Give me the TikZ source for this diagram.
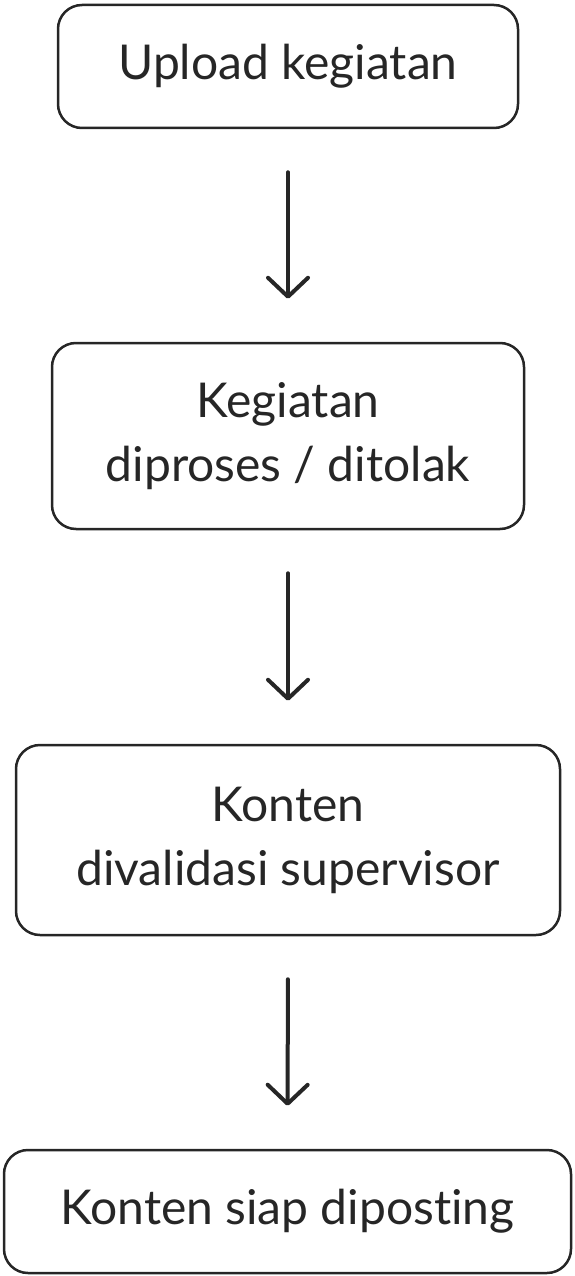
\documentclass[tikz,border=0pt]{standalone}
\usepackage{fontspec}
\setmainfont{Lato}[Ligatures={NoCommon}]
\usetikzlibrary{arrows.meta}
\definecolor{ink}{HTML}{262626}
\begin{document}
\begin{tikzpicture}[x=1pt,y=1pt,
  stepbox/.style={draw=ink, line width=2.5pt, rounded corners=24pt, align=center,
    text=ink, inner sep=0pt, font=\fontsize{48}{64}\selectfont},
  flow/.style={draw=ink, line width=4pt, line cap=round,
    -{Straight Barb[length=19pt, width=40pt, line width=4pt, round]},
    shorten <=43pt, shorten >=43pt}]
\useasboundingbox (0,0) rectangle (574,-1276);
\node[stepbox, minimum width=460pt, minimum height=123pt] (b1) at (288,-66.5) {Upload kegiatan};
\node[stepbox, minimum width=472pt, minimum height=186pt] (b2) at (288,-436) {Kegiatan\\diproses / ditolak};
\node[stepbox, minimum width=544pt, minimum height=190pt] (b3) at (288,-840) {Konten\\divalidasi supervisor};
\node[stepbox, minimum width=567pt, minimum height=123pt] (b4) at (287.5,-1211.5) {Konten siap diposting};
\draw[flow] (b1.south) -- (b2.north);
\draw[flow] (b2.south) -- (b3.north);
\draw[flow] (b3.south) -- (b4.north);
\end{tikzpicture}
\end{document}
